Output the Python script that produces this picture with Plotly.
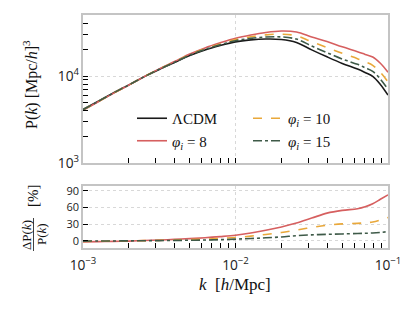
import plotly.graph_objects as go
from plotly.subplots import make_subplots

# k grid [h/Mpc]
k = [0.001, 0.00126, 0.00158, 0.002, 0.00251, 0.00316, 0.00398, 0.00501, 0.00631,
     0.00794, 0.01, 0.0126, 0.0158, 0.02, 0.0251, 0.0316, 0.0398, 0.0501, 0.0631,
     0.0708, 0.0794, 0.0891, 0.1]

# LCDM power spectrum [(Mpc/h)^3]
P_lcdm = [4120, 5130, 6380, 7910, 9770, 11900, 14300, 17200, 19950,
          22400, 24700, 26000, 26600, 26300, 24300, 19950, 16600, 13960, 12020,
          10960, 9900, 8000, 6030]

# relative differences Delta P / P [%]
dP_phi8 = [-2.0, -1.5, -1.0, -0.5, 0.5, 1.5, 2.5, 4.0, 5.5,
           7.5, 10.0, 14.0, 19.0, 25.0, 32.0, 41.0, 50.0, 55.0, 58.0,
           61.5, 67.0, 75.0, 83.0]
dP_phi10 = [-1.0, -0.8, -0.5, -0.2, 0.3, 0.8, 1.3, 2.0, 3.0,
            4.3, 6.0, 8.5, 11.5, 15.0, 19.5, 24.0, 28.0, 30.5, 31.5,
            32.5, 34.0, 37.5, 42.0]
dP_phi15 = [-0.5, -0.4, -0.3, -0.1, 0.1, 0.4, 0.7, 1.0, 1.4,
            2.1, 3.0, 4.1, 5.4, 7.0, 9.3, 10.8, 11.7, 12.4, 13.2,
            13.6, 14.2, 15.2, 16.5]

names = ["ΛCDM", "<i>φ<sub>i</sub></i> = 8", "<i>φ<sub>i</sub></i> = 10", "<i>φ<sub>i</sub></i> = 15"]
colors = ["#1a1a1a", "#d65f5f", "#e9a83a", "#3e5a48"]
dashes = ["solid", "solid", "dash", "dashdot"]
legends = ["legend", "legend", "legend2", "legend2"]
diffs = [None, dP_phi8, dP_phi10, dP_phi15]

fig = make_subplots(rows=2, cols=1, shared_xaxes=True)

for name, c, d, lg, dp in zip(names, colors, dashes, legends, diffs):
    if dp is None:
        P = P_lcdm
    else:
        P = [p * (1 + v / 100.0) for p, v in zip(P_lcdm, dp)]
    fig.add_trace(go.Scatter(x=k, y=P, mode="lines", name=name, legend=lg,
                             line=dict(color=c, width=1.6, dash=d, shape="spline")),
                  row=1, col=1)
    if dp is not None:
        fig.add_trace(go.Scatter(x=k, y=dp, mode="lines", showlegend=False,
                                 line=dict(color=c, width=1.6, dash=d, shape="spline")),
                      row=2, col=1)

W, H = 415, 312
L, R, T, B = 83, 27, 15, 64
pw, ph = W - L - R, H - T - B

def px(xp):
    return (xp - L) / pw

def py(yp):
    return (H - B - yp) / ph

frame = "#c4c4c4"
grid = "#d8d8d8"
tickfont = dict(family="Open Sans", size=11, color="#222")
serif = "Liberation Serif"

common_x = dict(type="log", range=[-3, -1], dtick=1, showline=True, linecolor=frame,
                linewidth=1.5, mirror=True, ticks="inside", ticklen=5, tickwidth=1,
                tickcolor="black", showgrid=True, gridcolor=grid, griddash="dot",
                gridwidth=1, zeroline=False, exponentformat="power", automargin=False,
                minor=dict(ticks="inside", ticklen=5, tickwidth=1, tickcolor="black",
                           dtick="D1", showgrid=False),
                tickfont=tickfont)

fig.update_xaxes(**common_x)
fig.update_xaxes(showticklabels=False, row=1, col=1)
fig.update_xaxes(showticklabels=True, ticklabelstandoff=4, row=2, col=1)

fig.update_layout(
    xaxis=dict(domain=[0, 1]),
    yaxis=dict(domain=[py(163), 1.0], type="log", range=[3, 3 + 148 / 87.0], dtick=1,
               showline=True, linecolor=frame, linewidth=1.5, mirror=True,
               ticks="inside", ticklen=5, tickwidth=1, tickcolor="black",
               showgrid=True, gridcolor=grid, griddash="dot", gridwidth=1,
               exponentformat="power", tickfont=tickfont, automargin=False,
               minor=dict(ticks="inside", ticklen=5, tickwidth=1, tickcolor="black",
                          dtick="D1", showgrid=False)),
    yaxis2=dict(domain=[0, py(186)], range=[-13, 99], tickvals=[0, 30, 60, 90],
                showline=True, linecolor=frame, linewidth=1.5, mirror=True,
                ticks="inside", ticklen=5, tickwidth=1, tickcolor="black",
                showgrid=True, gridcolor=grid, griddash="dot", gridwidth=1,
                zeroline=False, tickfont=tickfont, automargin=False),
)

fig.update_layout(
    width=W, height=H, margin=dict(l=L, r=R, t=T, b=B),
    paper_bgcolor="white", plot_bgcolor="white",
    legend=dict(x=px(132), y=py(102), xanchor="left", yanchor="top",
                bgcolor="rgba(0,0,0,0)", font=dict(family=serif, size=15, color="#111"),
                tracegroupgap=0, itemwidth=30),
    legend2=dict(x=px(248), y=py(102), xanchor="left", yanchor="top",
                 bgcolor="rgba(0,0,0,0)", font=dict(family=serif, size=15, color="#111"),
                 tracegroupgap=0, itemwidth=30),
)

annos = [
    dict(text="P(<i>k</i>) [Mpc/<i>h</i>]<sup>3</sup>", x=px(31), y=py(85), textangle=-90,
         font=dict(family=serif, size=16, color="#111")),
    dict(text="<i>k</i>  [<i>h</i>/Mpc]", x=px(235), y=py(284),
         font=dict(family=serif, size=17, color="#111")),
    dict(text="ΔP(<i>k</i>)", x=px(26), y=py(235), textangle=-90,
         font=dict(family=serif, size=13, color="#111")),
    dict(text="P(<i>k</i>)", x=px(41), y=py(234), textangle=-90,
         font=dict(family=serif, size=13, color="#111")),
    dict(text="[%]", x=px(33), y=py(196), textangle=-90,
         font=dict(family=serif, size=15, color="#111")),
]
for a in annos:
    fig.add_annotation(xref="paper", yref="paper", showarrow=False,
                       xanchor="center", yanchor="middle", **a)

fig.add_shape(type="line", xref="paper", yref="paper", x0=px(33.5), x1=px(33.5),
              y0=py(251), y1=py(218), line=dict(color="#111", width=0.8))

fig.write_html("out.html", config={"displayModeBar": False},
               post_script="document.body.style.margin='0';")
